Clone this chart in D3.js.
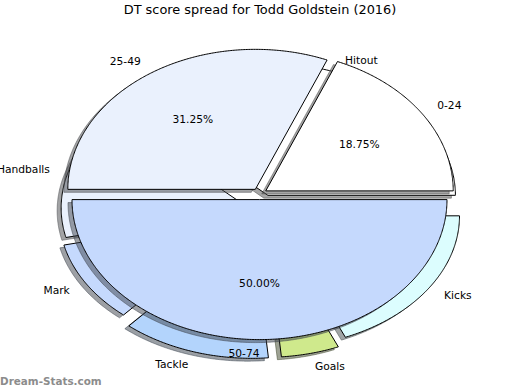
<!DOCTYPE html>
<html><head><meta charset="utf-8">
<script src="https://cdn.jsdelivr.net/npm/d3@7"></script>
<style>body{margin:0;background:#fff}svg{display:block}text{font-family:"DejaVu Sans",sans-serif}</style>
</head><body><svg id="c" width="520" height="390"></svg>
<script>
const chartTitle = "DT score spread for Todd Goldstein (2016)";
const watermark = "Dream-Stats.com";
// top layer: games per DT score band
const scoreLabels = ["0-24", "25-49", "50-74"];
const scoreValues = [3, 5, 8];
const scoreColors = ["#ffffff", "#eaf1fd", "#c5d9fd"];
const scoreExplode = [0.04, 0.04, 0.04];
// bottom layer: share of DT points by stat
const statLabels = ["Hitout", "Handballs", "Mark", "Tackle", "Goals", "Kicks"];
const statValues = [37.8, 15.8, 10.0, 12.8, 5.0, 18.6];
const statColors = ["#ffffff", "#eaf1fd", "#c5d9fd", "#b3d4fc", "#cfe98c", "#dcfdfe"];
const statExplode = [0.12, 0.06, 0.08, 0.13, 0.12, 0.08];

const W = 520, H = 390;
const svg = d3.select("#c");
// two overlaid pie axes
const xStat = d3.scaleLinear().domain([-1.25, 1.25]).range([25.125, 493.875]);
const yStat = d3.scaleLinear().domain([-1.25, 1.25]).range([375, 45]);
const xScore = d3.scaleLinear().domain([-1.25, 1.25]).range([25.125, 493.875]);
const yScore = d3.scaleLinear().domain([-1.25, 1.25]).range([369, 19]);
const shadowOff = -0.0214;

function wedge(xs, ys, cx, cy, r, t1, t2) {
  const n = Math.max(4, Math.ceil((t2 - t1) / (Math.PI / 360)));
  const pts = [[cx, cy]];
  for (let i = 0; i <= n; i++) {
    const t = t1 + (t2 - t1) * i / n;
    pts.push([cx + r * Math.cos(t), cy + r * Math.sin(t)]);
  }
  return d3.line().x(p => xs(p[0])).y(p => ys(p[1]))(pts) + "Z";
}
function shadowColor(c) {
  const k = d3.rgb(c);
  return `rgba(${Math.round(k.r*0.3)},${Math.round(k.g*0.3)},${Math.round(k.b*0.3)},0.5)`;
}
const pie = d3.pie().sort(null).startAngle(0).endAngle(2 * Math.PI);

function drawPie(values, labels, colors, explode, xs, ys, r, pct) {
  const arcs = pie(values);
  const total = d3.sum(values);
  const g = svg.append("g");
  const items = arcs.map((a, i) => {
    const m = (a.startAngle + a.endAngle) / 2;
    return {a, i, m, cx: explode[i] * Math.cos(m), cy: explode[i] * Math.sin(m)};
  });
  g.selectAll("path.sh").data(items).join("path").attr("class", "sh")
    .attr("d", d => wedge(xs, ys, d.cx + shadowOff, d.cy + shadowOff, r, d.a.startAngle, d.a.endAngle))
    .attr("fill", d => shadowColor(colors[d.i])).attr("stroke", d => shadowColor(colors[d.i])).attr("stroke-width", 1);
  g.selectAll("path.w").data(items).join("path").attr("class", "w")
    .attr("d", d => wedge(xs, ys, d.cx, d.cy, r, d.a.startAngle, d.a.endAngle))
    .attr("fill", d => colors[d.i]).attr("stroke", "#000").attr("stroke-width", 1);
  return items.map(d => Object.assign(d, {r, total, labels, pct, values, xs, ys}));
}

const statItems = drawPie(statValues, statLabels, statColors, statExplode, xStat, yStat, 1, false);
const scoreItems = drawPie(scoreValues, scoreLabels, scoreColors, scoreExplode, xScore, yScore, 1, true);

const tg = svg.append("g").attr("font-size", 10.7).attr("fill", "#000");
[...statItems, ...scoreItems].forEach(d => {
  const lx = d.cx + 1.1 * d.r * Math.cos(d.m);
  const ly = d.cy + 1.1 * d.r * Math.sin(d.m);
  tg.append("text").attr("x", d.xs(lx)).attr("y", d.ys(ly))
    .attr("text-anchor", Math.cos(d.m) > 0 ? "start" : "end")
    .attr("dominant-baseline", "central").text(d.labels[d.i]);
  if (d.pct) {
    const px = d.cx + 0.6 * d.r * Math.cos(d.m);
    const py = d.cy + 0.6 * d.r * Math.sin(d.m);
    tg.append("text").attr("x", d.xs(px)).attr("y", d.ys(py)).attr("text-anchor", "middle")
      .attr("dominant-baseline", "central")
      .text((100 * d.values[d.i] / d.total).toFixed(2) + "%");
  }
});

svg.append("text").attr("x", W / 2).attr("y", 14).attr("text-anchor", "middle")
  .attr("font-size", 12.9).attr("fill", "#000").text(chartTitle);
svg.append("text").attr("x", 0).attr("y", 384.5).attr("font-size", 10.4)
  .attr("fill", "#8c8c8c").attr("font-weight", "bold").text(watermark);
</script></body></html>
